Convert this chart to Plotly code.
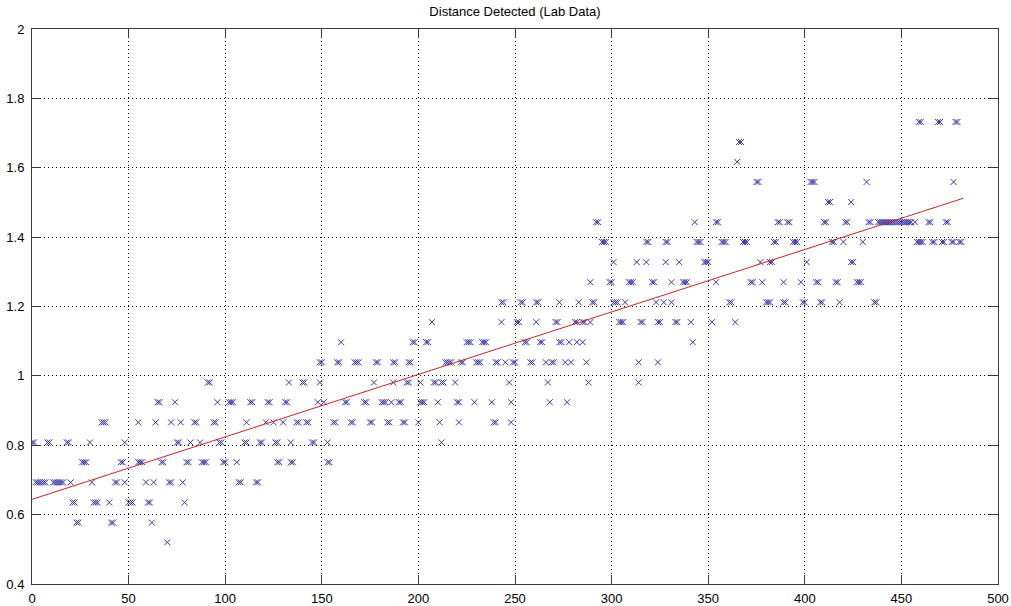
import plotly.graph_objects as go

# Quantised measured distances (y levels) and the sample indices (x) observed at each level
y_levels = [0.520, 0.577, 0.635, 0.693, 0.751, 0.808, 0.866, 0.924, 0.981, 1.039, 1.097,
            1.155, 1.212, 1.270, 1.328, 1.386, 1.443, 1.501, 1.559, 1.617, 1.674, 1.732]

x_0520 = [70]
x_0577 = [23, 24, 41, 42, 62]
x_0635 = [21, 22, 32, 33, 34, 40, 50, 51, 52, 60, 61, 79]
x_0693 = [2, 3, 4, 5, 6, 7, 11, 12, 13, 14, 15, 16, 20, 31, 43, 44, 48, 59, 63, 71, 72, 78,
          107, 108, 116, 117]
x_0751 = [26, 27, 28, 46, 47, 55, 56, 57, 67, 68, 80, 81, 88, 89, 90, 99, 100, 106, 127, 128,
          134, 135, 153, 154]
x_0808 = [0, 1, 8, 9, 18, 19, 30, 48, 75, 76, 82, 87, 97, 98, 110, 111, 118, 119, 126, 127,
          134, 145, 146, 153, 212]
x_0866 = [36, 37, 38, 55, 64, 72, 77, 84, 85, 94, 95, 111, 121, 125, 130, 137, 138, 142, 143,
          156, 157, 165, 166, 175, 176, 184, 185, 192, 193, 200, 211, 221, 239, 240, 248]
x_0924 = [65, 66, 74, 96, 102, 103, 104, 113, 114, 122, 123, 131, 132, 148, 151, 162, 163,
          172, 173, 181, 182, 183, 186, 190, 191, 201, 202, 203, 210, 220, 221, 229, 238, 248,
          268, 277]
x_0981 = [91, 92, 133, 140, 141, 149, 177, 187, 194, 195, 201, 208, 209, 212, 213, 219, 247,
          267, 288, 314]
x_1039 = [149, 150, 158, 159, 167, 168, 169, 178, 179, 187, 188, 195, 196, 214, 215, 216, 217,
          222, 223, 230, 231, 232, 240, 241, 245, 249, 250, 258, 259, 266, 269, 270, 276, 279,
          287, 314, 324]
x_1097 = [160, 197, 198, 204, 205, 225, 226, 227, 233, 234, 235, 255, 256, 263, 264, 273, 274,
          278, 282, 285, 342]
x_1155 = [207, 243, 251, 252, 261, 271, 272, 281, 282, 285, 286, 289, 304, 305, 306, 315, 316,
          324, 325, 333, 334, 341, 352, 364]
x_1212 = [243, 244, 253, 254, 261, 262, 273, 283, 290, 291, 301, 302, 303, 307, 323, 327, 331,
          361, 362, 380, 381, 382, 389, 390, 399, 400, 408, 409, 418, 436, 437]
x_1270 = [289, 299, 300, 309, 310, 311, 321, 322, 331, 337, 338, 339, 354, 372, 373, 378, 389,
          398, 406, 407, 416, 417, 427, 428, 429]
x_1328 = [301, 313, 318, 328, 335, 348, 349, 350, 377, 382, 383, 401, 424, 425]
x_1386 = [295, 296, 297, 318, 319, 328, 329, 344, 345, 346, 357, 358, 359, 368, 369, 370, 384,
          385, 394, 395, 396, 414, 415, 420, 430, 458, 459, 460, 461, 466, 467, 471, 472, 476,
          477, 480, 481]
x_1443 = [292, 293, 343, 354, 355, 386, 387, 391, 392, 410, 411, 421, 422, 433, 434, 438, 439,
          440, 441, 442, 443, 444, 445, 446, 447, 448, 449, 450, 451, 452, 453, 454, 455, 457,
          464, 465, 473, 474]
x_1501 = [412, 413, 424]
x_1559 = [375, 376, 403, 404, 405, 432, 477]
x_1617 = [365]
x_1674 = [366, 367]
x_1732 = [459, 460, 469, 470, 478, 479]

x_groups = [x_0520, x_0577, x_0635, x_0693, x_0751, x_0808, x_0866, x_0924, x_0981, x_1039,
            x_1097, x_1155, x_1212, x_1270, x_1328, x_1386, x_1443, x_1501, x_1559, x_1617,
            x_1674, x_1732]

# Fitted trend line end points
fit_x = [0, 482]
fit_y = [0.644, 1.512]

x_ticks = [0, 50, 100, 150, 200, 250, 300, 350, 400, 450, 500]
y_ticks = [0.4, 0.6, 0.8, 1.0, 1.2, 1.4, 1.6, 1.8, 2.0]
y_tick_text = ["0.4", "0.6", "0.8", "1", "1.2", "1.4", "1.6", "1.8", "2"]

xs, ys = [], []
for lvl, grp in zip(y_levels, x_groups):
    xs.extend(grp)
    ys.extend([lvl] * len(grp))

marker_color = "rgb(55,55,165)"

fig = go.Figure()
fig.add_trace(go.Scatter(
    x=xs, y=ys, mode="markers",
    marker=dict(symbol="x-thin", size=6, color=marker_color,
                line=dict(width=1, color=marker_color)),
    showlegend=False, hoverinfo="skip"))
fig.add_trace(go.Scatter(
    x=fit_x, y=fit_y, mode="lines",
    line=dict(color="rgb(205,35,35)", width=1),
    showlegend=False, hoverinfo="skip"))

font_family = "Liberation Sans, Arial, sans-serif"
axis_common = dict(
    showline=True, linecolor="#3a3a3a", linewidth=1, mirror="allticks",
    ticks="inside", ticklen=9, tickcolor="#3a3a3a", tickwidth=1,
    showgrid=True, gridcolor="#000000", gridwidth=1, griddash="1px,3px",
    zeroline=False, automargin=False,
    tickfont=dict(family=font_family, size=13, color="#000000"),
)

fig.update_xaxes(range=[0, 500], tickvals=x_ticks, ticktext=[str(v) for v in x_ticks],
                 ticklabelstandoff=2, **axis_common)
fig.update_yaxes(range=[0.4, 2.0], tickvals=y_ticks, ticktext=y_tick_text,
                 ticklabelstandoff=4, **axis_common)

fig.update_layout(
    width=1011, height=606,
    margin=dict(l=32, r=13, t=29, b=22),
    paper_bgcolor="white", plot_bgcolor="white",
    title=dict(text="Distance Detected (Lab Data)", x=0.5, xref="paper",
               y=1 - 11 / 606, yref="container", yanchor="middle",
               font=dict(family=font_family, size=13, color="#000000")),
)

fig.write_html("out.html")
